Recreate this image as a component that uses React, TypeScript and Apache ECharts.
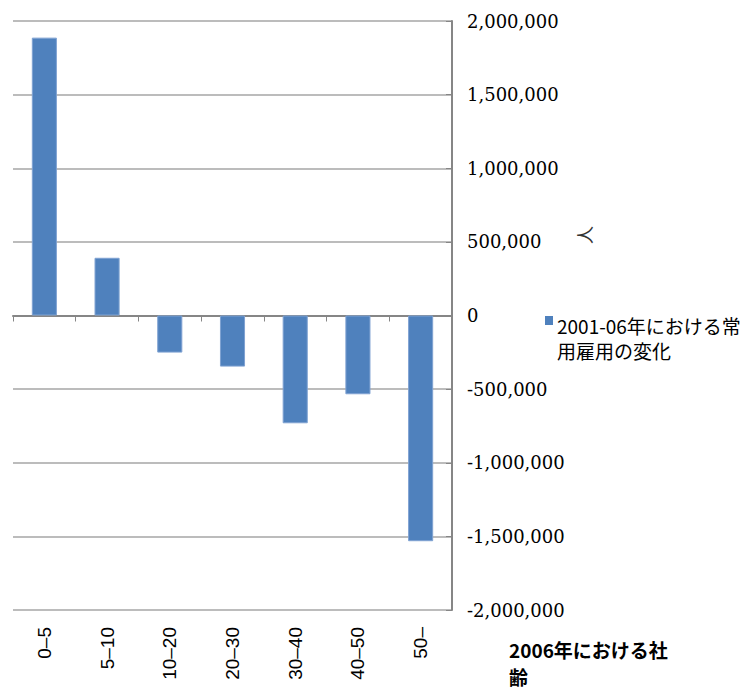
import React, { useEffect, useRef } from "react";
import * as echarts from "echarts";

const categories = ["0–5", "5–10", "10–20", "20–30", "30–40", "40–50", "50–"];
const seriesName = "2001-06年における常用雇用の変化";
const legendLines = ["2001-06年における常", "用雇用の変化"];
const values = [1887000, 392000, -252000, -347000, -732000, -535000, -1533000];
const yMin = -2000000;
const yMax = 2000000;
const yInterval = 500000;
const xTitleLines = ["2006年における社", "齢"];
const yUnit = "人";

export default function App() {
  const ref = useRef<HTMLDivElement>(null);
  useEffect(() => {
    if (!ref.current) return;
    const chart = echarts.init(ref.current, undefined, { renderer: "svg" });
    chart.setOption({
      animation: false,
      backgroundColor: "#ffffff",
      grid: { left: 13, right: 304, top: 21, bottom: 79, containLabel: false },
      xAxis: [
        {
          type: "category",
          data: categories,
          axisLine: { show: true, onZero: true, lineStyle: { color: "#868686", width: 2 } },
          axisTick: { show: true, interval: 0, length: 6, lineStyle: { color: "#868686", width: 1 } },
          axisLabel: { show: false },
          splitLine: { show: false },
        },
        {
          type: "category",
          data: categories,
          position: "bottom",
          axisLine: { show: false, onZero: false },
          axisTick: { show: false },
          axisLabel: {
            show: true,
            interval: 0,
            rotate: 90,
            margin: 17,
            color: "#000",
            fontFamily: "Liberation Sans",
            fontSize: 19,
          },
          splitLine: { show: false },
        },
      ],
      yAxis: {
        type: "value",
        position: "right",
        min: yMin,
        max: yMax,
        interval: yInterval,
        axisLine: { show: true, lineStyle: { color: "#868686", width: 2 } },
        axisTick: { show: true, inside: true, length: 6, lineStyle: { color: "#868686", width: 1 } },
        axisLabel: {
          margin: 15,
          color: "#000",
          fontFamily: "DejaVu Serif",
          fontSize: 18,
          formatter: (v: number) => v.toLocaleString("en-US"),
        },
        splitLine: { show: true, lineStyle: { color: "#a6a6a6", width: 1.5 } },
      },
      series: [
        {
          name: seriesName,
          type: "bar",
          xAxisIndex: 0,
          data: values,
          barWidth: "40%",
          itemStyle: { color: "#4f81bd", borderColor: "#7fa2d2", borderWidth: 1 },
        },
      ],
      graphic: [
        {
          type: "rect",
          shape: { x: 545, y: 316, width: 8, height: 9 },
          style: { fill: "#4f81bd" },
        },
        {
          type: "text",
          x: 557,
          y: 313,
          style: {
            text: legendLines.join("\n"),
            fontFamily: "Noto Sans CJK JP",
            fontSize: 19,
            lineHeight: 25,
            fill: "#000",
          },
        },
        {
          type: "text",
          x: 509,
          y: 636,
          style: {
            text: xTitleLines.join("\n"),
            fontFamily: "Noto Sans CJK JP",
            fontWeight: "bold",
            fontSize: 19,
            lineHeight: 27,
            fill: "#000",
          },
        },
        {
          type: "text",
          x: 584,
          y: 235,
          rotation: Math.PI / 2,
          style: {
            text: yUnit,
            fontFamily: "Noto Sans CJK JP",
            fontSize: 18,
            fill: "#333",
            align: "center",
            verticalAlign: "middle",
          },
        },
      ],
    });
    return () => chart.dispose();
  }, []);
  return (
    <div
      ref={ref}
      style={{ position: "fixed", left: 0, top: 0, width: 756, height: 689 }}
    />
  );
}
